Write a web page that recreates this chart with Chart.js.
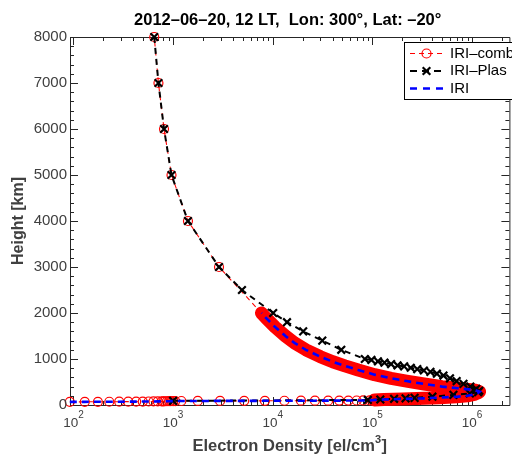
<!DOCTYPE html>
<html>
<head>
<meta charset="utf-8">
<script src="https://cdn.jsdelivr.net/npm/chart.js@4/dist/chart.umd.min.js"></script>
<style>
  html, body { margin: 0; padding: 0; background: #fff; }
  #wrap { width: 512px; height: 457px; position: relative; overflow: hidden; }
</style>
</head>
<body>
<div id="wrap"><canvas id="c" width="512" height="457"></canvas></div>
<script>
// IRI electron density profile: height [km] and density [el/cm^3]
const iriHeight = [
  68, 69, 70, 71, 72, 73, 74, 75, 76, 77, 78, 79, 80, 81, 82, 83, 84, 85, 86,
  87, 88, 89, 90, 91, 92, 93, 94, 95, 96, 97, 98, 99, 100,
  110, 120, 130, 145, 160, 180, 200, 230, 260, 290, 320, 340, 363, 400, 457,
  520, 580, 660, 760, 850, 940, 1050, 1200, 1350, 1500, 1700, 1900, 2000
];
const iriDensity = [
  92, 130, 176, 229, 288, 355, 426, 496, 568, 636, 702, 769, 798, 830, 870, 910, 950, 1000, 1050,
  1210, 1770, 2960, 5170, 8340, 13100, 19200, 26500, 36000, 46500, 57400, 69500, 80800, 94000,
  105000, 130000, 200000, 330000, 470000, 700000, 900000, 1050000, 1140000, 1190000, 1080000, 920000, 720000, 500000, 330000,
  220000, 154000, 105000, 72000, 53000, 40000, 30000, 21500, 16500, 13400, 10500, 8500, 7700
];

// Plasmaspheric part added on top of IRI for the combined profile
const combUpperHeight = [3000, 4000, 5000, 6000, 7000, 8000];
const combUpperDensity = [2890, 1410, 964, 811, 713, 647];

// IRI-Plas profile
const plasHeight = [
  8000, 7000, 6000, 5000, 4000, 3000, 2500, 2000, 1800, 1600, 1400, 1200, 1000,
  980, 950, 920, 890, 860, 840, 810, 780, 750, 720, 680, 640,
  580, 520, 460, 400, 350, 310, 280, 250, 220, 180, 155, 145, 135, 120, 110, 90
];
const plasDensity = [
  647, 713, 811, 964, 1410, 2890, 4910, 10100, 13900, 20200, 31400, 48700, 83900,
  97800, 113600, 132000, 153900, 178700, 208200, 242400, 281800, 328300, 381800, 443600, 516300,
  600000, 700000, 820000, 960000, 1100000, 1180000, 1150000, 950000, 650000, 400000, 265000, 215000, 165000, 120000, 90000, 1000
];

// Axis ticks
const xTickExponents = [2, 3, 4, 5, 6];
const yTicks = [0, 1000, 2000, 3000, 4000, 5000, 6000, 7000, 8000];
const yMinorStep = 200;

const FONT = '"Liberation Sans", Arial, Helvetica, sans-serif';

const toPoints = (xs, ys) => xs.map((v, i) => ({ x: v, y: ys[i] }));

const iriPoints = toPoints(iriDensity, iriHeight);
const combPoints = iriPoints.concat(toPoints(combUpperDensity, combUpperHeight));
const bandPoints = iriPoints.filter(p => p.y >= 110);
const plasPoints = toPoints(plasDensity, plasHeight);

// Box axes with inward ticks, labels, titles and legend
const axesFrame = {
  id: 'axesFrame',
  beforeDatasetsDraw(chart) {
    const { ctx, chartArea: a, scales: { x, y } } = chart;
    const L = a.left, T = a.top, B = a.bottom, R = a.right + 5;
    ctx.save();
    ctx.strokeStyle = '#262626';
    ctx.lineWidth = 1;
    ctx.beginPath();
    ctx.moveTo(L + 0.5, B + 0.5); ctx.lineTo(R + 0.5, B + 0.5);
    ctx.moveTo(L + 0.5, T + 0.5); ctx.lineTo(R + 0.5, T + 0.5);
    ctx.moveTo(L + 0.5, T + 0.5); ctx.lineTo(L + 0.5, B + 0.5);
    ctx.moveTo(R + 0.5, T + 0.5); ctx.lineTo(R + 0.5, B + 0.5);
    // x ticks (log decades and minor)
    for (let e = 1; e <= 6; e++) {
      for (let m = 1; m <= 9; m++) {
        const v = m * Math.pow(10, e);
        if (v < x.min || v > x.max) continue;
        const px = Math.round(x.getPixelForValue(v)) + 0.5;
        const len = m === 1 ? 8 : 4;
        ctx.moveTo(px, B); ctx.lineTo(px, B - len);
        ctx.moveTo(px, T); ctx.lineTo(px, T + len);
      }
    }
    // y ticks
    for (let v = 0; v <= 8000; v += yMinorStep) {
      const py = Math.round(y.getPixelForValue(v)) + 0.5;
      const len = v % 1000 === 0 ? 8 : 4;
      ctx.moveTo(L, py); ctx.lineTo(L + len, py);
      ctx.moveTo(R, py); ctx.lineTo(R - len, py);
    }
    ctx.stroke();
    ctx.restore();
  },
  afterDraw(chart) {
    const { ctx, chartArea: a, scales: { x, y } } = chart;
    const L = a.left, R = a.right + 5;
    ctx.save();
    ctx.fillStyle = '#404040';

    // x tick labels 10^n
    for (const e of xTickExponents) {
      const px = x.getPixelForValue(Math.pow(10, e));
      ctx.font = '13.5px ' + FONT;
      const wBase = ctx.measureText('10').width;
      ctx.font = '10px ' + FONT;
      const wSup = ctx.measureText(String(e)).width;
      const start = px - (wBase + wSup) / 2;
      ctx.textAlign = 'left';
      ctx.textBaseline = 'alphabetic';
      ctx.font = '13.5px ' + FONT;
      ctx.fillText('10', start, 427);
      ctx.font = '10px ' + FONT;
      ctx.fillText(String(e), start + wBase, 418);
    }

    // y tick labels
    ctx.font = '15px ' + FONT;
    ctx.textAlign = 'right';
    ctx.textBaseline = 'middle';
    for (const v of yTicks) {
      ctx.fillText(String(v), L - 3, y.getPixelForValue(v));
    }

    // axis titles
    const cx = (L + R) / 2;
    const xt1 = 'Electron Density [el/cm';
    ctx.font = 'bold 16.5px ' + FONT;
    const w1 = ctx.measureText(xt1).width;
    const w3 = ctx.measureText(']').width;
    ctx.font = 'bold 11px ' + FONT;
    const w2 = ctx.measureText('3').width + 0.5;
    const sx = cx - (w1 + w2 + w3) / 2;
    ctx.textAlign = 'left';
    ctx.textBaseline = 'alphabetic';
    ctx.fillText('3', sx + w1, 443);
    ctx.font = 'bold 16.5px ' + FONT;
    ctx.fillText(xt1, sx, 451);
    ctx.fillText(']', sx + w1 + w2, 451);

    ctx.save();
    ctx.translate(19, (a.top + a.bottom) / 2);
    ctx.rotate(-Math.PI / 2);
    ctx.font = 'bold 16px ' + FONT;
    ctx.textAlign = 'center';
    ctx.textBaseline = 'middle';
    ctx.fillText('Height [km]', 0, 0);
    ctx.restore();

    // chart title
    const title = '2012\u201306\u201320, 12 LT,  Lon: 300\u00B0, Lat: \u201320\u00B0';
    ctx.fillStyle = '#000';
    ctx.font = 'bold 16.5px ' + FONT;
    ctx.textAlign = 'center';
    ctx.textBaseline = 'alphabetic';
    ctx.fillText(title, cx - 2, 25);

    // legend
    const lx = 404, ly = 42, lw = 130, lh = 57;
    ctx.fillStyle = '#fff';
    ctx.fillRect(lx, ly, lw, lh);
    ctx.strokeStyle = '#000';
    ctx.lineWidth = 1;
    ctx.strokeRect(lx + 0.5, ly + 0.5, lw, lh);
    const rows = [
      { label: 'IRI\u2013comb', color: '#ff0000', width: 1.2, dash: [5, 4], marker: 'circle', y: 53.5 },
      { label: 'IRI\u2013Plas', color: '#000000', width: 2.2, dash: [7, 5], marker: 'cross', y: 71 },
      { label: 'IRI', color: '#0000ff', width: 2.6, dash: [7, 6], marker: null, y: 88.5 }
    ];
    const x0 = 410, x1 = 443, xm = (x0 + x1) / 2;
    for (const r of rows) {
      ctx.strokeStyle = r.color;
      ctx.lineWidth = r.width;
      ctx.setLineDash(r.dash);
      ctx.beginPath();
      ctx.moveTo(x0, r.y); ctx.lineTo(x1, r.y);
      ctx.stroke();
      ctx.setLineDash([]);
      if (r.marker === 'circle') {
        ctx.lineWidth = 1.2;
        ctx.beginPath();
        ctx.arc(xm, r.y, 4.5, 0, Math.PI * 2);
        ctx.stroke();
      } else if (r.marker === 'cross') {
        ctx.lineWidth = 2.2;
        const d = 3.8;
        ctx.beginPath();
        ctx.moveTo(xm - d, r.y - d); ctx.lineTo(xm + d, r.y + d);
        ctx.moveTo(xm - d, r.y + d); ctx.lineTo(xm + d, r.y - d);
        ctx.stroke();
      }
      ctx.fillStyle = '#000';
      ctx.font = '15px ' + FONT;
      ctx.textAlign = 'left';
      ctx.textBaseline = 'middle';
      ctx.fillText(r.label, 450, r.y);
    }
    ctx.restore();
  }
};

new Chart(document.getElementById('c'), {
  type: 'scatter',
  data: {
    datasets: [
      {
        label: 'IRI',
        data: iriPoints,
        showLine: true,
        borderColor: '#0000ff',
        borderWidth: 2.6,
        borderDash: [7, 5],
        pointRadius: 0,
        clip: false,
        order: 0
      },
      {
        label: 'IRI\u2013Plas',
        data: plasPoints,
        showLine: true,
        borderColor: '#000000',
        borderWidth: 2,
        borderDash: [6, 5],
        pointStyle: 'crossRot',
        pointRadius: 5.4,
        pointBorderWidth: 2.2,
        pointBorderColor: '#000000',
        pointBackgroundColor: '#000000',
        clip: false,
        order: 1
      },
      {
        label: 'IRI\u2013comb',
        data: combPoints,
        showLine: true,
        borderColor: '#ff0000',
        borderWidth: 1.1,
        borderDash: [5, 4],
        pointStyle: 'circle',
        pointRadius: 4.5,
        pointBorderWidth: 1.2,
        pointBorderColor: '#ff0000',
        pointBackgroundColor: 'rgba(0,0,0,0)',
        clip: false,
        order: 2
      },
      {
        label: 'comb-band',
        data: bandPoints,
        showLine: true,
        borderColor: '#ff0000',
        borderWidth: 13,
        borderCapStyle: 'round',
        borderJoinStyle: 'round',
        pointRadius: 0,
        clip: false,
        order: 3
      }
    ]
  },
  options: {
    responsive: false,
    animation: false,
    devicePixelRatio: 1,
    layout: { padding: { left: 70, right: 0, top: 37, bottom: 52 } },
    scales: {
      x: { type: 'logarithmic', min: 92.4, max: 2.11e6, display: false },
      y: { type: 'linear', min: 0, max: 8000, display: false }
    },
    plugins: {
      legend: { display: false },
      tooltip: { enabled: false },
      title: { display: false }
    },
    elements: { line: { tension: 0 } }
  },
  plugins: [axesFrame]
});
</script>
</body>
</html>
